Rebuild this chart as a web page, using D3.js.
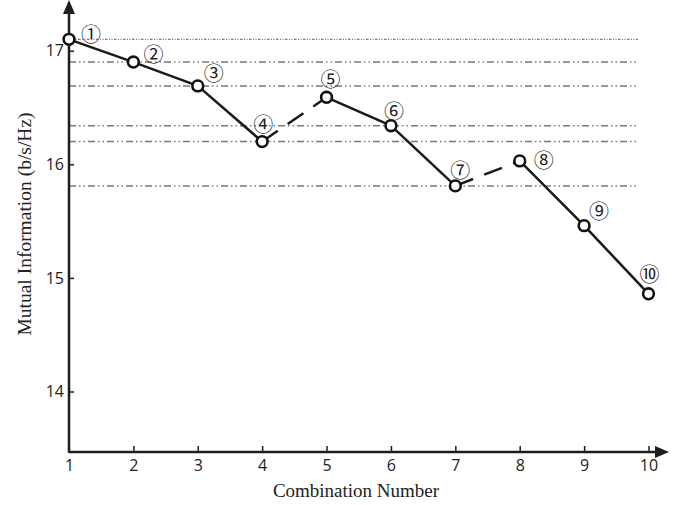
<!DOCTYPE html>
<html>
<head>
<meta charset="utf-8">
<script src="https://cdn.jsdelivr.net/npm/d3@7"></script>
<style>
  html, body { margin: 0; padding: 0; background: #fff; }
  svg { display: block; }
</style>
</head>
<body>
<svg id="chart" width="686" height="505"></svg>
<script>
// ---- data ----
const combinations = [1, 2, 3, 4, 5, 6, 7, 8, 9, 10];
const mutualInfo = [17.10, 16.90, 16.69, 16.20, 16.59, 16.34, 15.81, 16.03, 15.46, 14.86];
const pointLabels = ["①", "②", "③", "④", "⑤", "⑥", "⑦", "⑧", "⑨", "⑩"];
// segment style between consecutive points (true = dashed)
const dashedSegments = [false, false, false, true, false, false, true, false, false];
// points that receive a horizontal reference line (1-based combination numbers)
const referencePoints = [1, 2, 3, 4, 6, 7];
const xTicks = [1, 2, 3, 4, 5, 6, 7, 8, 9, 10];
const yTicks = [14, 15, 16, 17];
const xTitle = "Combination Number";
const yTitle = "Mutual Information (b/s/Hz)";

// ---- layout (not data) ----
const labelOffsets = [[22, -6], [20, -9], [16, -13], [1, -18], [4, -19], [3, -15], [5, -16], [24, -1], [15, -15], [1, -20]];

const svg = d3.select("#chart");
const x = d3.scaleLinear().domain([1, 10]).range([69, 648.5]);
const y = d3.scaleLinear().domain([14, 17]).range([391.5, 50.7]);
const axisY = 452;
const axisColor = "#1e1e1e";

// reference lines
const refLine = svg.append("g");
referencePoints.forEach(p => {
  const v = mutualInfo[p - 1];
  refLine.append("line")
    .attr("x1", x(1)).attr("x2", 638)
    .attr("y1", y(v)).attr("y2", y(v))
    .attr("stroke", "#7a7a7a")
    .attr("stroke-width", p === 1 ? 1.3 : 1.5)
    .attr("stroke-dasharray", p === 1 ? "2.5,1.5,1,1.5,1,1.5" : "7,3,1.5,3,1.5,3");
});

// axes
const xAxis = d3.axisBottom(x).tickValues(xTicks).tickSize(0).tickPadding(8).tickFormat(d3.format("d"));
const gx = svg.append("g").attr("transform", `translate(0,${axisY})`).call(xAxis);
gx.select(".domain").remove();
gx.selectAll("text").attr("font-family", "'Open Sans', sans-serif").attr("font-size", 16).attr("fill", "#222").attr("dy", "0.71em");
gx.selectAll(".tick").append("line")
  .filter(d => d !== 1)
  .attr("y1", 0).attr("y2", -6).attr("stroke", axisColor).attr("stroke-width", 1.5);

const yAxis = d3.axisLeft(y).tickValues(yTicks).tickSize(0).tickPadding(5).tickFormat(d3.format("d"));
const gy = svg.append("g").attr("transform", `translate(${x(1)},0)`).call(yAxis);
gy.select(".domain").remove();
gy.selectAll("text").attr("font-family", "'Open Sans', sans-serif").attr("font-size", 16).attr("fill", "#222");
gy.selectAll(".tick").append("line").attr("x1", 0).attr("x2", 5).attr("stroke", axisColor).attr("stroke-width", 1.5);

// axis lines with arrows
svg.append("line").attr("x1", x(1)).attr("x2", 660).attr("y1", axisY).attr("y2", axisY)
  .attr("stroke", axisColor).attr("stroke-width", 2.5);
svg.append("path").attr("d", `M669,${axisY} L655,${axisY - 6} L655,${axisY + 6} Z`).attr("fill", axisColor);
svg.append("line").attr("x1", x(1)).attr("x2", x(1)).attr("y1", axisY + 1).attr("y2", 10)
  .attr("stroke", axisColor).attr("stroke-width", 2.5);
svg.append("path").attr("d", `M${x(1)},0 L${x(1) - 6},14 L${x(1) + 6},14 Z`).attr("fill", axisColor);

// segments
const pts = combinations.map((c, i) => [x(c), y(mutualInfo[i])]);
dashedSegments.forEach((dashed, i) => {
  svg.append("line")
    .attr("x1", pts[i][0]).attr("y1", pts[i][1])
    .attr("x2", pts[i + 1][0]).attr("y2", pts[i + 1][1])
    .attr("stroke", "#1a1a1a").attr("stroke-width", 2.5)
    .attr("stroke-dasharray", dashed ? "19,12" : null);
});

// markers
svg.append("g").selectAll("circle").data(combinations).join("circle")
  .attr("cx", d => x(d)).attr("cy", (d, i) => y(mutualInfo[i]))
  .attr("r", 5.4).attr("fill", "#fff").attr("stroke", "#111").attr("stroke-width", 2.6);

// point labels
svg.append("g").selectAll("text").data(pointLabels).join("text")
  .attr("x", (d, i) => x(combinations[i]) + labelOffsets[i][0])
  .attr("y", (d, i) => y(mutualInfo[i]) + labelOffsets[i][1])
  .attr("text-anchor", "middle").attr("dominant-baseline", "central")
  .attr("font-family", "'Noto Sans CJK SC', 'Noto Sans CJK JP', sans-serif").attr("font-size", 20).attr("fill", "#222")
  .text(d => d);

// titles
svg.append("text").attr("x", 356).attr("y", 497).attr("text-anchor", "middle")
  .attr("font-family", "'Liberation Serif', 'Times New Roman', serif").attr("font-size", 19).attr("fill", "#222")
  .text(xTitle);
svg.append("text").attr("transform", "translate(31,224) rotate(-90)").attr("text-anchor", "middle")
  .attr("font-family", "'Liberation Serif', 'Times New Roman', serif").attr("font-size", 19.5).attr("fill", "#222")
  .text(yTitle);
</script>
</body>
</html>
